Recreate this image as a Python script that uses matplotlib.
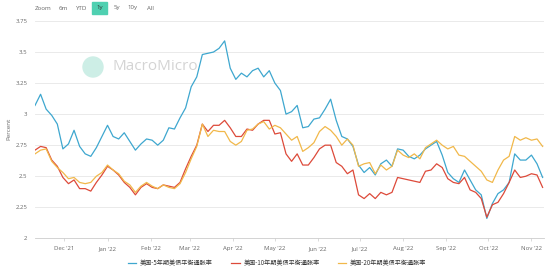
import matplotlib
matplotlib.use("Agg")
import matplotlib.pyplot as plt
import matplotlib.dates as mdates
from matplotlib.patches import Ellipse, FancyBboxPatch
import pandas as pd

# ---------------------------- data ---------------------------- #
dates = pd.date_range("2021-11-10", periods=92, freq="4D")

be_5y = [
    3.07, 3.16, 3.04, 2.99, 2.92, 2.72, 2.76, 2.87, 2.74, 2.68,
    2.66, 2.73, 2.82, 2.91, 2.82, 2.80, 2.85, 2.78, 2.71, 2.76,
    2.80, 2.79, 2.75, 2.79, 2.89, 2.88, 2.97, 3.05, 3.22, 3.30,
    3.48, 3.49, 3.50, 3.53, 3.59, 3.37, 3.28, 3.33, 3.30, 3.35,
    3.37, 3.30, 3.35, 3.25, 3.19, 3.00, 3.02, 3.07, 2.89, 2.90,
    2.96, 2.97, 3.04, 3.12, 2.95, 2.82, 2.80, 2.74, 2.59, 2.53,
    2.57, 2.51, 2.60, 2.63, 2.58, 2.72, 2.71, 2.66, 2.64, 2.67,
    2.72, 2.75, 2.78, 2.67, 2.53, 2.48, 2.45, 2.55, 2.47, 2.39,
    2.35, 2.16, 2.28, 2.36, 2.39, 2.45, 2.68, 2.63, 2.63, 2.67,
    2.60, 2.49,
]

be_10y = [
    2.71, 2.74, 2.73, 2.63, 2.58, 2.49, 2.44, 2.47, 2.40, 2.40,
    2.38, 2.45, 2.51, 2.58, 2.55, 2.51, 2.45, 2.41, 2.35, 2.41,
    2.44, 2.41, 2.40, 2.43, 2.42, 2.41, 2.45, 2.56, 2.66, 2.75,
    2.92, 2.86, 2.91, 2.91, 2.95, 2.89, 2.82, 2.82, 2.88, 2.87,
    2.92, 2.95, 2.95, 2.84, 2.85, 2.68, 2.62, 2.68, 2.59, 2.59,
    2.65, 2.72, 2.75, 2.75, 2.61, 2.58, 2.52, 2.55, 2.35, 2.32,
    2.36, 2.32, 2.37, 2.35, 2.37, 2.49, 2.48, 2.47, 2.46, 2.45,
    2.54, 2.55, 2.60, 2.57, 2.48, 2.45, 2.44, 2.49, 2.39, 2.37,
    2.32, 2.17, 2.27, 2.29, 2.36, 2.45, 2.55, 2.49, 2.50, 2.52,
    2.51, 2.41,
]

be_20y = [
    2.68, 2.71, 2.72, 2.62, 2.57, 2.53, 2.48, 2.49, 2.45, 2.44,
    2.45, 2.50, 2.53, 2.59, 2.55, 2.52, 2.46, 2.43, 2.37, 2.42,
    2.45, 2.42, 2.40, 2.43, 2.41, 2.40, 2.44, 2.53, 2.64, 2.74,
    2.92, 2.82, 2.87, 2.86, 2.86, 2.78, 2.75, 2.78, 2.87, 2.88,
    2.92, 2.94, 2.88, 2.91, 2.89, 2.84, 2.79, 2.82, 2.70, 2.73,
    2.77, 2.86, 2.90, 2.87, 2.82, 2.75, 2.80, 2.75, 2.58, 2.60,
    2.61, 2.52, 2.59, 2.55, 2.58, 2.71, 2.67, 2.65, 2.68, 2.64,
    2.73, 2.76, 2.79, 2.75, 2.72, 2.74, 2.67, 2.66, 2.62, 2.58,
    2.54, 2.47, 2.45, 2.55, 2.63, 2.66, 2.82, 2.79, 2.81, 2.79,
    2.80, 2.74,
]

labels = ["美国-5年期美债平衡通胀率", "美国-10年期美债平衡通胀率", "美国-20年期美债平衡通胀率"]
colors = ["#3ea7cf", "#dd4a3a", "#f1b84a"]
y_ticks = [2, 2.25, 2.5, 2.75, 3, 3.25, 3.5, 3.75]
range_buttons = ["6m", "YTD", "1y", "5y", "10y", "All"]

# --------------------------- figure --------------------------- #
plt.rcParams["font.family"] = ["Open Sans", "Noto Sans CJK SC", "DejaVu Sans"]
GREY = "#666666"
W, H = 554, 276

fig = plt.figure(figsize=(W / 100, H / 100), dpi=100)
ax = fig.add_axes([35 / W, 1 - 238.3 / H, 509 / W, (238.3 - 21) / H])
ax.patch.set_alpha(0)  # watermark shows through behind the lines

for vals, lab, col in zip([be_5y, be_10y, be_20y], labels, colors):
    ax.plot(dates, vals, color=col, lw=0.9, label=lab)

ax.set_ylim(2, 3.75)
ax.set_xlim(pd.Timestamp("2021-11-10"), pd.Timestamp("2022-11-10"))
ax.set_yticks(y_ticks)
ax.set_yticklabels([f"{v:g}" for v in y_ticks])
ax.grid(axis="y", color="#e6e6e6", lw=0.6)
ax.set_axisbelow(True)
for s in ["top", "right", "left"]:
    ax.spines[s].set_visible(False)
ax.spines["bottom"].set_color("#cccccc")
ax.spines["bottom"].set_linewidth(0.6)

ax.xaxis.set_major_locator(mdates.MonthLocator())
ax.xaxis.set_major_formatter(mdates.DateFormatter("%b '%y"))
ax.tick_params(axis="x", colors="#cccccc", labelcolor=GREY, labelsize=4.3,
               length=2.5, width=0.5, pad=3)
ax.tick_params(axis="y", length=0, labelcolor=GREY, labelsize=4.3, pad=5.5)
fig.text(9 / W, 1 - 129 / H, "Percent", rotation=90, color=GREY, fontsize=4.5,
         va="center", ha="center")

# watermark
fig.add_artist(Ellipse((93 / W, 1 - 67 / H), 20 / W, 20 / H, transform=fig.transFigure,
                       color="#cdeee6", zorder=-1))
fig.text(113 / W, 1 - 67 / H, "MacroMicro", fontsize=11, color="#d4d4d4",
         va="center", ha="left", zorder=-1)

# range selector
fig.text(35 / W, 1 - 8 / H, "Zoom", fontsize=4.4, color=GREY, va="center")
btn_x = [63, 82, 99.5, 117, 133, 150]
for bx, b in zip(btn_x, range_buttons):
    if b == "1y":
        fig.add_artist(FancyBboxPatch(((bx - 8) / W, 1 - 14 / H), 16 / W, 12 / H,
                                      boxstyle="square,pad=0", transform=fig.transFigure,
                                      color="#4fd0b1"))
    fig.text(bx / W, 1 - 8 / H, b, fontsize=4.4, color=GREY if b != "1y" else "#333333",
             va="center", ha="center")

leg = fig.legend(loc="center", bbox_to_anchor=(0.5, 1 - 263 / H), ncol=3, frameon=False,
                 handlelength=1.4, columnspacing=3.0, handletextpad=0.6,
                 prop={"family": ["Noto Sans CJK SC", "DejaVu Sans"], "size": 4.4})
for t in leg.get_texts():
    t.set_color("#333333")

fig.savefig("out.png", dpi=100)
